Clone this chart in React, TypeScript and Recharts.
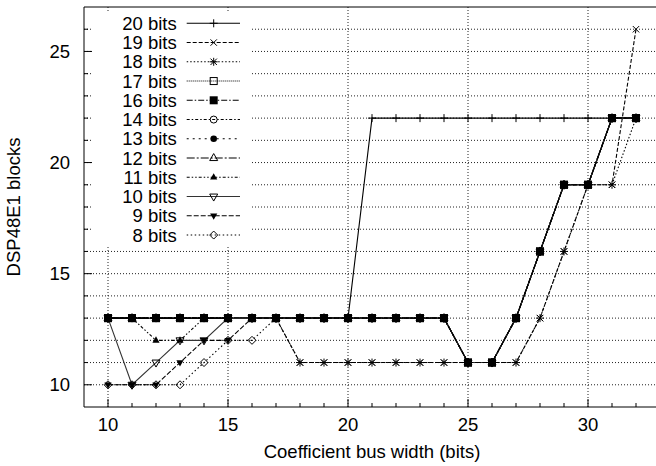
import React from 'react';
import { LineChart, Line, XAxis, YAxis, CartesianGrid, Legend, ReferenceLine } from 'recharts';

// Coefficient bus width (bits)
const coefficientWidths = [10, 11, 12, 13, 14, 15, 16, 17, 18, 19, 20, 21, 22, 23, 24, 25, 26, 27, 28, 29, 30, 31, 32];

// DSP48E1 blocks per data width
const bits20 = [13, 13, 13, 13, 13, 13, 13, 13, 13, 13, 13, 22, 22, 22, 22, 22, 22, 22, 22, 22, 22, 22, 22];
const bits19 = [13, 13, 13, 13, 13, 13, 13, 13, 11, 11, 11, 11, 11, 11, 11, 11, 11, 11, 13, 16, 19, 19, 26];
const bits18 = [13, 13, 13, 13, 13, 13, 13, 13, 11, 11, 11, 11, 11, 11, 11, 11, 11, 11, 13, 16, 19, 19, 22];
const bits17 = [13, 13, 13, 13, 13, 13, 13, 13, 13, 13, 13, 13, 13, 13, 13, 11, 11, 13, 16, 19, 19, 22, 22];
const bits16 = [13, 13, 13, 13, 13, 13, 13, 13, 13, 13, 13, 13, 13, 13, 13, 11, 11, 13, 16, 19, 19, 22, 22];
const bits14 = [13, 13, 13, 13, 13, 13, 13, 13, 13, 13, 13, 13, 13, 13, 13, 11, 11, 13, 16, 19, 19, 22, 22];
const bits13 = [13, 13, 13, 13, 13, 13, 13, 13, 13, 13, 13, 13, 13, 13, 13, 11, 11, 13, 16, 19, 19, 22, 22];
const bits12 = [13, 13, 13, 13, 13, 13, 13, 13, 13, 13, 13, 13, 13, 13, 13, 11, 11, 13, 16, 19, 19, 22, 22];
const bits11 = [13, 13, 12, 12, 13, 13, 13, 13, 13, 13, 13, 13, 13, 13, 13, 11, 11, 13, 16, 19, 19, 22, 22];
const bits10 = [13, 10, 11, 12, 12, 13, 13, 13, 13, 13, 13, 13, 13, 13, 13, 11, 11, 13, 16, 19, 19, 22, 22];
const bits9 = [10, 10, 10, 11, 12, 12, 13, 13, 13, 13, 13, 13, 13, 13, 13, 11, 11, 13, 16, 19, 19, 22, 22];
const bits8 = [10, 10, 10, 10, 11, 12, 12, 13, 13, 13, 13, 13, 13, 13, 13, 11, 11, 13, 16, 19, 19, 22, 22];

const xTicks = [10, 11, 12, 13, 14, 15, 16, 17, 18, 19, 20, 21, 22, 23, 24, 25, 26, 27, 28, 29, 30, 31, 32];
const xMajorTicks = [10, 15, 20, 25, 30];
const yTicks = [10, 11, 12, 13, 14, 15, 16, 17, 18, 19, 20, 21, 22, 23, 24, 25, 26];
const yMajorTicks = [10, 15, 20, 25];

const FONT = '"Liberation Sans", Arial, Helvetica, sans-serif';
const FS = 18.5;

type MarkerType =
  | 'plus' | 'cross' | 'star' | 'squareOpen' | 'square' | 'circleOpen' | 'circle'
  | 'triOpen' | 'tri' | 'invTriOpen' | 'invTri' | 'diamondOpen';

const series: { key: string; name: string; values: number[]; marker: MarkerType; dash?: string; stroke: string }[] = [
  { key: 'b20', name: '20 bits', values: bits20, marker: 'plus', stroke: '#000' },
  { key: 'b19', name: '19 bits', values: bits19, marker: 'cross', dash: '4 2', stroke: '#000' },
  { key: 'b18', name: '18 bits', values: bits18, marker: 'star', dash: '1.5 2', stroke: '#000' },
  { key: 'b17', name: '17 bits', values: bits17, marker: 'squareOpen', dash: '1 1', stroke: '#000' },
  { key: 'b16', name: '16 bits', values: bits16, marker: 'square', dash: '6 2 1.5 2', stroke: '#000' },
  { key: 'b14', name: '14 bits', values: bits14, marker: 'circleOpen', dash: '3 2 1.5 2', stroke: '#000' },
  { key: 'b13', name: '13 bits', values: bits13, marker: 'circle', dash: '2 4', stroke: '#000' },
  { key: 'b12', name: '12 bits', values: bits12, marker: 'triOpen', dash: '8 2 2 2', stroke: '#000' },
  { key: 'b11', name: '11 bits', values: bits11, marker: 'tri', dash: '3 2 1.5 2 1.5 2', stroke: '#000' },
  { key: 'b10', name: '10 bits', values: bits10, marker: 'invTriOpen', stroke: '#333' },
  { key: 'b9', name: '9 bits', values: bits9, marker: 'invTri', dash: '5 2', stroke: '#000' },
  { key: 'b8', name: '8 bits', values: bits8, marker: 'diamondOpen', dash: '1.5 2.5', stroke: '#000' },
];

const rows = coefficientWidths.map((x, i) => {
  const r: Record<string, number> = { x };
  series.forEach((s) => {
    r[s.key] = s.values[i];
  });
  return r;
});

function Marker({ type, cx, cy }: { type: MarkerType; cx: number; cy: number }) {
  const k = '#000';
  switch (type) {
    case 'plus': {
      const s = 4;
      return <path d={`M${cx - s},${cy}H${cx + s}M${cx},${cy - s}V${cy + s}`} stroke={k} strokeWidth={1} fill="none" />;
    }
    case 'cross': {
      const s = 3.2;
      return <path d={`M${cx - s},${cy - s}L${cx + s},${cy + s}M${cx - s},${cy + s}L${cx + s},${cy - s}`} stroke={k} strokeWidth={1} fill="none" />;
    }
    case 'star': {
      const s = 3.2;
      const p = 4;
      return (
        <path
          d={`M${cx - s},${cy - s}L${cx + s},${cy + s}M${cx - s},${cy + s}L${cx + s},${cy - s}M${cx - p},${cy}H${cx + p}M${cx},${cy - p}V${cy + p}`}
          stroke={k}
          strokeWidth={1}
          fill="none"
        />
      );
    }
    case 'squareOpen':
      return <rect x={cx - 3.5} y={cy - 3.5} width={7} height={7} stroke={k} strokeWidth={1} fill="none" />;
    case 'square':
      return <rect x={cx - 4} y={cy - 4} width={8} height={8} fill={k} />;
    case 'circleOpen':
      return <circle cx={cx} cy={cy} r={3.5} stroke={k} strokeWidth={1} fill="none" />;
    case 'circle':
      return <circle cx={cx} cy={cy} r={3.3} fill={k} />;
    case 'triOpen':
      return <polygon points={`${cx},${cy - 4.5} ${cx + 4},${cy + 2.5} ${cx - 4},${cy + 2.5}`} stroke={k} strokeWidth={1} fill="none" />;
    case 'tri':
      return <polygon points={`${cx},${cy - 4} ${cx + 3.6},${cy + 2.3} ${cx - 3.6},${cy + 2.3}`} fill={k} />;
    case 'invTriOpen':
      return <polygon points={`${cx},${cy + 4.5} ${cx + 4},${cy - 2.5} ${cx - 4},${cy - 2.5}`} stroke={k} strokeWidth={1} fill="none" />;
    case 'invTri':
      return <polygon points={`${cx},${cy + 4} ${cx + 3.6},${cy - 2.3} ${cx - 3.6},${cy - 2.3}`} fill={k} />;
    case 'diamondOpen':
    default:
      return <polygon points={`${cx},${cy - 4} ${cx + 4},${cy} ${cx},${cy + 4} ${cx - 4},${cy}`} stroke={k} strokeWidth={1} fill="none" />;
  }
}

const XTick = (props: any) => {
  const { x, y, payload } = props;
  const v = payload.value;
  const major = xMajorTicks.includes(v);
  return (
    <g>
      <line x1={x} x2={x} y1={y} y2={y - (major ? 8 : 4)} stroke="#000" strokeWidth={1} />
      {major && (
        <text x={x} y={y + 23.5} textAnchor="middle" fontSize={FS} fontFamily={FONT} fill="#000">
          {v}
        </text>
      )}
    </g>
  );
};

const YTick = (props: any) => {
  const { x, y, payload } = props;
  const v = payload.value;
  const major = yMajorTicks.includes(v);
  return (
    <g>
      <line x1={x} x2={x + (major ? 8 : 4)} y1={y} y2={y} stroke="#000" strokeWidth={1} />
      {major && (
        <text x={x - 14} y={y + 6.5} textAnchor="end" fontSize={FS} fontFamily={FONT} fill="#000">
          {v}
        </text>
      )}
    </g>
  );
};

const renderLegend = () => (
  <svg width={157} height={233} style={{ display: 'block', background: '#fff' }}>
    <rect x={0} y={0} width={157} height={233} fill="#fff" />
    {series.map((s, i) => {
      const cy = 11.3 + i * 19.25;
      return (
        <g key={s.key}>
          <text x={83.7} y={cy + 6.5} textAnchor="end" fontSize={FS} fontFamily={FONT} fill="#000">
            {s.name}
          </text>
          <line x1={93.7} x2={147} y1={cy} y2={cy} stroke={s.stroke} strokeWidth={1.1} strokeDasharray={s.dash} />
          <Marker type={s.marker} cx={120.7} cy={cy} />
        </g>
      );
    })}
  </svg>
);

const XLabel = (props: any) => {
  const vb = props.viewBox || { x: 84, y: 407, width: 576, height: 59 };
  return (
    <text x={vb.x + vb.width / 2} y={vb.y + vb.height - 8} textAnchor="middle" fontSize={FS} fontFamily={FONT} fill="#000">
      Coefficient bus width (bits)
    </text>
  );
};

const YLabel = (props: any) => {
  const vb = props.viewBox || { x: 0, y: 7, width: 84, height: 400 };
  const cx = vb.x + 20;
  const cy = vb.y + vb.height / 2;
  return (
    <text x={cx} y={cy} transform={`rotate(-90, ${cx}, ${cy})`} textAnchor="middle" fontSize={FS} fontFamily={FONT} fill="#000">
      DSP48E1 blocks
    </text>
  );
};

export default function App() {
  return (
    <div style={{ position: 'absolute', left: 0, top: 0, width: 656, height: 466, overflow: 'hidden', background: '#fff' }}>
      <LineChart width={660} height={466} data={rows} margin={{ top: 7, right: 0, bottom: 0, left: 0 }}>
        <CartesianGrid
          horizontalValues={yTicks}
          verticalValues={xMajorTicks}
          stroke="#222"
          strokeWidth={1}
          strokeDasharray="1 2"
        />
        <XAxis
          dataKey="x"
          type="number"
          domain={[9, 33]}
          ticks={xTicks}
          interval={0}
          tickSize={0}
          tickMargin={0}
          tickLine={false}
          axisLine={{ stroke: '#000', strokeWidth: 1 }}
          tick={XTick}
          height={59}
          allowDataOverflow
          label={XLabel}
        />
        <YAxis
          type="number"
          domain={[9, 27]}
          ticks={yTicks}
          interval={0}
          tickSize={0}
          tickMargin={0}
          tickLine={false}
          axisLine={{ stroke: '#000', strokeWidth: 1 }}
          tick={YTick}
          width={84}
          allowDataOverflow
          label={YLabel}
        />
        <ReferenceLine y={27} stroke="#000" strokeWidth={1} />
        {series.map((s) => (
          <Line
            key={s.key}
            dataKey={s.key}
            name={s.name}
            type="linear"
            stroke={s.stroke}
            strokeWidth={1.1}
            strokeDasharray={s.dash}
            isAnimationActive={false}
            activeDot={false}
            dot={(p: any) => (
              <g key={`${s.key}-${p.index}`}>
                <Marker type={s.marker} cx={p.cx} cy={p.cy} />
              </g>
            )}
          />
        ))}
        <Legend
          layout="vertical"
          align="center"
          verticalAlign="middle"
          wrapperStyle={{ left: 93, top: 12, width: 157, height: 233, margin: 0, padding: 0 }}
          content={renderLegend}
        />
      </LineChart>
    </div>
  );
}
